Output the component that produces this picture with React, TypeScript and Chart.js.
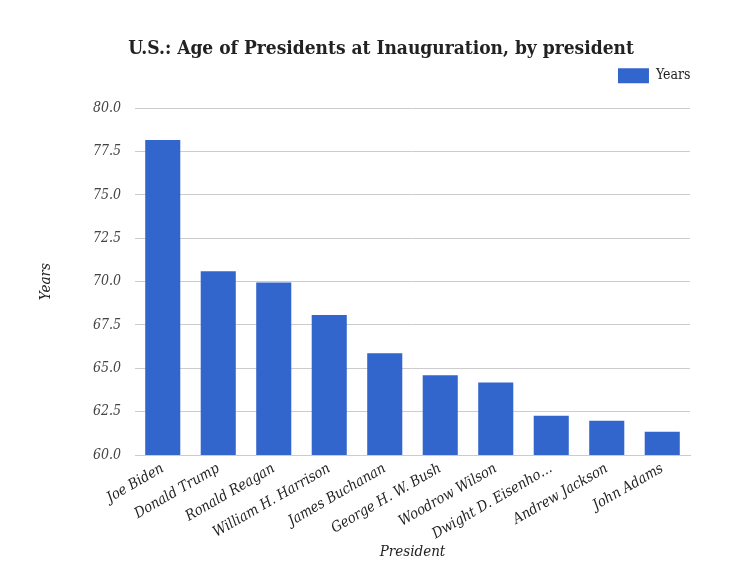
import React, { useEffect, useRef } from "react";
import { Chart, registerables } from "chart.js";

Chart.register(...registerables);

const categories = [
  "Joe Biden",
  "Donald Trump",
  "Ronald Reagan",
  "William H. Harrison",
  "James Buchanan",
  "George H. W. Bush",
  "Woodrow Wilson",
  "Dwight D. Eisenhower",
  "Andrew Jackson",
  "John Adams",
];
const years = [78.17, 70.6, 69.95, 68.07, 65.87, 64.6, 64.18, 62.27, 61.98, 61.34];
const seriesLabel = "Years";
const titleText = "U.S.: Age of Presidents at Inauguration, by president";
const xTitle = "President";
const yTitle = "Years";

const FONT = "'DejaVu Serif Condensed', 'DejaVu Serif', serif";

const titleShift = {
  id: "titleShift",
  afterLayout(chart: any) {
    const t = chart.titleBlock;
    if (t) {
      t.left = 72;
      t.right = 690;
    }
  },
};

export default function App() {
  const ref = useRef<HTMLCanvasElement | null>(null);
  useEffect(() => {
    document.body.style.margin = "0";
    if (!ref.current) return;
    const chart = new Chart(ref.current, {
      type: "bar",
      data: {
        labels: categories,
        datasets: [
          {
            label: seriesLabel,
            data: years,
            backgroundColor: "#3366CC",
            borderWidth: 0,
            categoryPercentage: 0.8,
            barPercentage: 0.79,
            xAxisID: "x",
            yAxisID: "y",
          },
        ],
      },
      options: {
        animation: false,
        responsive: false,
        maintainAspectRatio: false,
        devicePixelRatio: 1,
        layout: { padding: { left: 0, right: 52, top: 0, bottom: 0 } },
        plugins: {
          title: {
            display: true,
            text: titleText,
            color: "#222",
            font: { family: FONT, size: 19, weight: "bold" },
            padding: { top: 38, bottom: 0 },
          },
          legend: {
            display: true,
            align: "end",
            labels: {
              boxWidth: 31,
              boxHeight: 15,
              color: "#222",
              font: { family: FONT, size: 14 },
              padding: 7.5,
            },
          },
          tooltip: { enabled: false },
        },
        scales: {
          x: {
            grid: { display: false },
            border: { display: true, color: "#ccc" },
            ticks: {
              color: "#222",
              font: { family: FONT, size: 14.5, style: "italic" },
              minRotation: 30,
              maxRotation: 30,
              autoSkip: false,
              padding: -3,
              callback: function (this: any, v: any) {
                const s = categories[v as number];
                return s.length > 19 ? s.slice(0, 17) + "…" : s;
              },
            },
            title: {
              display: true,
              text: xTitle,
              color: "#222",
              font: { family: FONT, size: 15, style: "italic" },
              padding: { top: 0, bottom: 2 },
            },
            afterFit: (s: any) => {
              s.height = 108;
            },
          },
          xTop: {
            type: "category",
            position: "top",
            labels: categories,
            grid: { display: false, drawTicks: false },
            border: { display: false },
            ticks: { display: false },
            afterFit: (s: any) => {
              s.height = 15;
            },
          },
          y: {
            min: 60,
            max: 80,
            grid: { color: "#ccc", drawTicks: false },
            border: { display: false },
            ticks: {
              stepSize: 2.5,
              color: "#444",
              padding: 14,
              font: { family: FONT, size: 14, style: "italic" },
              callback: (v: any) => Number(v).toFixed(1),
            },
            title: {
              display: true,
              text: yTitle,
              color: "#222",
              font: { family: FONT, size: 15, style: "italic" },
              padding: { top: 37, bottom: 0 },
            },
            afterFit: (s: any) => {
              s.width = 135;
            },
          },
          yRight: {
            position: "right",
            min: 60,
            max: 80,
            grid: { display: false, drawTicks: false },
            border: { display: false },
            ticks: { display: false },
            afterFit: (s: any) => {
              s.width = 8;
            },
          },
        },
      },
      plugins: [titleShift],
    });
    return () => chart.destroy();
  }, []);
  return (
    <div style={{ width: 750, height: 563 }}>
      <canvas ref={ref} width={750} height={563} style={{ width: 750, height: 563 }} />
    </div>
  );
}
